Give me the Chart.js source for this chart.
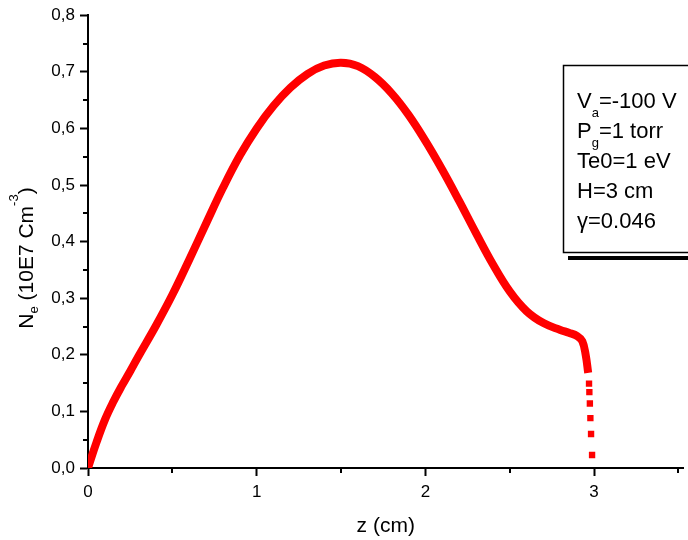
<!DOCTYPE html>
<html>
<head>
<meta charset="utf-8">
<script src="https://cdn.jsdelivr.net/npm/chart.js@4.4.0/dist/chart.umd.min.js"></script>
<style>
  body { margin: 0; background: #fff; }
  #wrap { width: 688px; height: 540px; }
</style>
</head>
<body>
<div id="wrap"><canvas id="chart"></canvas></div>
<script>
// electron density along z
const zValues = [0, 0.05, 0.1, 0.15, 0.2, 0.25, 0.3, 0.4, 0.5, 0.6, 0.7, 0.8, 0.9, 1.0, 1.1, 1.2, 1.3, 1.4, 1.5,
                 1.6, 1.7, 1.8, 1.9, 2.0, 2.1, 2.2, 2.3, 2.4, 2.5, 2.6, 2.7, 2.8, 2.85, 2.9, 2.93, 2.95, 2.965];
const neValues = [0, 0.045, 0.085, 0.117, 0.145, 0.171, 0.198, 0.25, 0.306, 0.368, 0.432, 0.495, 0.552, 0.6, 0.64, 0.672, 0.696, 0.711, 0.716,
                  0.71, 0.691, 0.662, 0.624, 0.578, 0.527, 0.472, 0.415, 0.36, 0.312, 0.277, 0.256, 0.244, 0.239, 0.233, 0.224, 0.2, 0.168];
// sparse points where the profile drops at the wall
const tailZ = [2.97, 2.972, 2.975, 2.978, 2.982, 2.988];
const tailNe = [0.149, 0.134, 0.114, 0.088, 0.06, 0.023];

const xTickValues = [0, 1, 2, 3];
const xMinorValues = [0.5, 1.5, 2.5, 3.5];
const yMinorValues = [0.05, 0.15, 0.25, 0.35, 0.45, 0.55, 0.65, 0.75];

const legendLines = [
    [['V', ''], ['a', 'sub'], ['=-100 V', '']],
    [['P', ''], ['g', 'sub'], ['=1 torr', '']],
    [['Te0=1 eV', '']],
    [['H=3 cm', '']],
    [['\u03b3=0.046', '']]
];
const yTitle = [['N', ''], ['e', 'sub'], [' (10E7 Cm', ''], ['-3', 'sup'], [')', '']];

const FONT = '"Liberation Sans", Arial, sans-serif';

function richWidth(ctx, parts, size) {
    let w = 0;
    parts.forEach(([t, kind]) => {
        ctx.font = (kind ? Math.round(size * 0.6) : size) + 'px ' + FONT;
        w += ctx.measureText(t).width;
    });
    return w;
}

function drawRich(ctx, parts, x, y, size, subShift, supShift) {
    parts.forEach(([t, kind]) => {
        ctx.font = (kind ? Math.round(size * 0.6) : size) + 'px ' + FONT;
        let dy = kind === 'sub' ? subShift : kind === 'sup' ? -supShift : 0;
        ctx.fillText(t, x, y + dy);
        x += ctx.measureText(t).width;
    });
}

const extras = {
    id: 'extras',
    afterDraw(chart) {
        const ctx = chart.ctx;
        const xs = chart.scales.x;
        const ys = chart.scales.y;
        ctx.save();

        // minor ticks
        ctx.strokeStyle = '#000';
        ctx.lineWidth = 2;
        ctx.beginPath();
        xMinorValues.forEach(v => {
            let px = Math.round(xs.getPixelForValue(v));
            ctx.moveTo(px, xs.top);
            ctx.lineTo(px, xs.top + 5);
        });
        yMinorValues.forEach(v => {
            let py = Math.round(ys.getPixelForValue(v));
            ctx.moveTo(ys.right, py);
            ctx.lineTo(ys.right - 5, py);
        });
        ctx.stroke();

        // y title with sub/superscripts
        ctx.fillStyle = '#000';
        ctx.textBaseline = 'alphabetic';
        ctx.textAlign = 'left';
        let w = richWidth(ctx, yTitle, 21);
        ctx.translate(33, 258);
        ctx.rotate(-Math.PI / 2);
        drawRich(ctx, yTitle, -w / 2, 0, 21, 5, 15);
        ctx.setTransform(1, 0, 0, 1, 0, 0);

        // parameter box
        ctx.lineWidth = 1.5;
        ctx.strokeRect(563.5, 65.5, 140, 187);
        ctx.fillRect(568, 256, 130, 4);
        legendLines.forEach((parts, i) => {
            drawRich(ctx, parts, 577, 108 + i * 30, 22, 9, 9);
        });

        ctx.restore();
    }
};

new Chart(document.getElementById('chart'), {
    type: 'line',
    data: {
        datasets: [{
            data: zValues.map((z, i) => ({ x: z, y: neValues[i] })),
            borderColor: '#ff0000',
            borderWidth: 8,
            pointRadius: 0,
            tension: 0.4,
            borderJoinStyle: 'round'
        }, {
            data: tailZ.map((z, i) => ({ x: z, y: tailNe[i] })),
            showLine: false,
            pointStyle: 'rect',
            pointRadius: 4.5,
            pointBorderWidth: 0,
            backgroundColor: '#ff0000'
        }]
    },
    options: {
        responsive: true,
        maintainAspectRatio: false,
        animation: false,
        layout: { padding: { top: 13, right: 0, left: 0, bottom: 0 } },
        plugins: {
            legend: { display: false },
            tooltip: { enabled: false }
        },
        scales: {
            x: {
                type: 'linear',
                min: 0,
                max: 3.53,
                afterBuildTicks: (scale) => { scale.ticks = xTickValues.map(v => ({ value: v })); },
                afterFit: (scale) => { scale.height = 72; },
                grid: { drawOnChartArea: false, tickLength: 8, tickWidth: 2, tickColor: '#000' },
                border: { color: '#000', width: 2 },
                ticks: {
                    color: '#000',
                    padding: 6,
                    maxRotation: 0,
                    font: { family: FONT, size: 17 }
                },
                title: {
                    display: true,
                    text: 'z (cm)',
                    color: '#000',
                    font: { family: FONT, size: 21 },
                    padding: { top: 0, bottom: 1 }
                }
            },
            y: {
                min: 0,
                max: 0.8,
                afterFit: (scale) => { scale.width = 88; },
                grid: { drawOnChartArea: false, tickLength: 8, tickWidth: 2, tickColor: '#000' },
                border: { color: '#000', width: 2 },
                ticks: {
                    stepSize: 0.1,
                    color: '#000',
                    padding: 5,
                    font: { family: FONT, size: 17 },
                    callback: (v) => v.toFixed(1).replace('.', ',')
                }
            }
        }
    },
    plugins: [extras]
});
</script>
</body>
</html>
